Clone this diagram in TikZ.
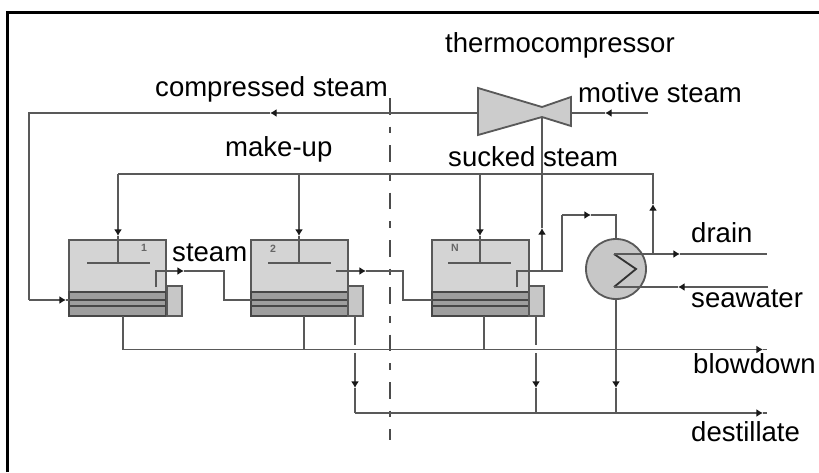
\documentclass[tikz,border=0pt]{standalone}
\usepackage{fontspec}
\setmainfont{Liberation Sans}
\usetikzlibrary{arrows.meta}

\begin{document}
\begin{tikzpicture}[x=0.03cm,y=-0.03cm,
    pipe/.style={draw=black!65, line width=0.055cm},
    tipped/.style={pipe,-{Latex[length=0.2cm,width=0.24cm,color=black!90]}},
    shell/.style={draw=black!65, line width=0.055cm, fill=black!17, anchor=north west, inner sep=0, outer sep=0, minimum width=2.91cm, minimum height=2.28cm},
    band/.style={draw=black!72, line width=0.055cm, fill=black!38, anchor=north west, inner sep=0, outer sep=0, minimum width=2.91cm},
    sidebox/.style={draw=black!65, line width=0.055cm, fill=black!22, anchor=south west, inner sep=0, outer sep=0, minimum width=0.46cm, minimum height=0.9cm},
    tag/.style={anchor=base west, inner sep=0, font=\fontsize{23.5}{28}\selectfont},
    num/.style={text=black!60, inner sep=0, font=\bfseries\fontsize{9}{10}\selectfont}]
    \useasboundingbox (0,0) rectangle (819,472);

    % frame
    \coordinate (f1) at (7,472);
    \coordinate (f2) at (7,12);
    \coordinate (f3) at (819,12);
    \draw[line width=0.09cm, line join=miter] (f1) -- (f2) -- (f3);

    % evaporators
    \node[shell] (ev1) at (69,240) {};
    \node[band, minimum height=0.24cm] (a1) at (69,292) {};
    \node[band, minimum height=0.18cm] (b1) at (69,300) {};
    \node[band, minimum height=0.30cm] (c1) at (69,306) {};
    \node[sidebox] (s1) at (167,316) {};
    \node[num] (l1) at (144,248) {1};

    \node[shell] (ev2) at (251,240) {};
    \node[band, minimum height=0.24cm] (a2) at (251,292) {};
    \node[band, minimum height=0.18cm] (b2) at (251,300) {};
    \node[band, minimum height=0.30cm] (c2) at (251,306) {};
    \node[sidebox] (s2) at (348,316) {};
    \node[num] (l2) at (273,249) {2};

    \node[shell] (evN) at (432,240) {};
    \node[band, minimum height=0.24cm] (aN) at (432,292) {};
    \node[band, minimum height=0.18cm] (bN) at (432,300) {};
    \node[band, minimum height=0.30cm] (cN) at (432,306) {};
    \node[sidebox] (sN) at (529,316) {};
    \node[num] (lN) at (455,248) {N};

    % condenser and ejector
    \node[circle, draw=black!65, line width=0.055cm, fill=black!22, minimum size=1.8cm, inner sep=0, outer sep=0] (cond) at (616,269) {};
    \coordinate (z1) at (614,254);
    \coordinate (z2) at (636,269);
    \coordinate (z3) at (614,287);

    \coordinate (t1) at (478,88);
    \coordinate (t2) at (542,107);
    \coordinate (t3) at (571,97);
    \coordinate (t4) at (571,126);
    \coordinate (t5) at (542,117);
    \coordinate (t6) at (478,135);
    \draw[pipe, fill=black!20] (t1) -- (t2) -- (t3) -- (t4) -- (t5) -- (t6) -- cycle;

    % dashed axis
    \coordinate (d1) at (390,98);
    \coordinate (d2) at (390,440);
    \draw[draw=black!70, line width=0.045cm, dash pattern=on 0.5cm off 0.36cm on 0.2cm off 0.36cm] (d1) -- (d2);

    % compressed steam
    \coordinate (m0) at (648,113);
    \coordinate (m1) at (605,113);
    \coordinate (m2) at (571,113);
    \coordinate (p0) at (478,113);
    \coordinate (p1) at (270,113);
    \coordinate (p2) at (29,113);
    \coordinate (p3) at (29,300);
    \coordinate (p4) at (66,300);
    \draw[tipped] (m0) -- (m1);
    \draw[pipe] (m1) -- (m2);
    \draw[tipped] (p0) -- (p1);
    \draw[pipe] (p1) -- (p2) -- (p3);
    \draw[tipped] (p3) -- (p4);
    \draw[pipe] (p4) -- (a1.south west);

    % make-up
    \coordinate (h1) at (118,174);
    \coordinate (h2) at (299,174);
    \coordinate (h3) at (480,174);
    \coordinate (h4) at (653,174);
    \coordinate (h5) at (653,204);
    \coordinate (h6) at (653,254);
    \coordinate (i1) at (118,236);
    \coordinate (i2) at (299,236);
    \coordinate (i3) at (480,236);
    \coordinate (j1) at (118,263);
    \coordinate (j2) at (299,263);
    \coordinate (j3) at (480,263);
    \coordinate (k1) at (87,263);
    \coordinate (k2) at (150,263);
    \coordinate (k3) at (268,263);
    \coordinate (k4) at (331,263);
    \coordinate (k5) at (448,263);
    \coordinate (k6) at (511,263);
    \draw[pipe] (h1) -- (h4) -- (h5);
    \draw[tipped] (h6) -- (h5);
    \draw[tipped] (h1) -- (i1);
    \draw[tipped] (h2) -- (i2);
    \draw[tipped] (h3) -- (i3);
    \draw[pipe] (i1) -- (j1);
    \draw[pipe] (i2) -- (j2);
    \draw[pipe] (i3) -- (j3);
    \draw[pipe] (k1) -- (k2);
    \draw[pipe] (k3) -- (k4);
    \draw[pipe] (k5) -- (k6);

    % steam between effects
    \coordinate (v1) at (156,287);
    \coordinate (v2) at (156,271);
    \coordinate (v3) at (184,271);
    \coordinate (v4) at (224,271);
    \coordinate (v5) at (224,300);
    \draw[tipped] (v1) -- (v2) -- (v3);
    \draw[pipe] (v3) -- (v4) -- (v5) -- (a2.south west);
    \coordinate (w1) at (336,271);
    \coordinate (w2) at (366,271);
    \coordinate (w3) at (403,271);
    \coordinate (w4) at (403,300);
    \draw[tipped] (w1) -- (w2);
    \draw[pipe] (w2) -- (w3) -- (w4) -- (aN.south west);

    % last effect, condenser, sucked steam
    \coordinate (y1) at (517,287);
    \coordinate (y2) at (517,271);
    \coordinate (y3) at (562,271);
    \coordinate (y4) at (562,215);
    \coordinate (y5) at (591,215);
    \coordinate (y6) at (616,215);
    \coordinate (q1) at (542,271);
    \coordinate (q2) at (542,228);
    \coordinate (q3) at (542,117);
    \draw[pipe] (y1) -- (y2) -- (y3) -- (y4);
    \draw[tipped] (y4) -- (y5);
    \draw[pipe] (y5) -- (y6) -- (cond.north);
    \draw[tipped] (q1) -- (q2);
    \draw[pipe] (q2) -- (q3);

    % condenser ends
    \coordinate (r1) at (680,254);
    \coordinate (r2) at (767,254);
    \coordinate (r3) at (768,287);
    \coordinate (r4) at (678,287);
    \draw[pipe, draw=black!80] (z3) -- (z2) -- (z1);
    \draw[tipped] (z1) -- (r1);
    \draw[pipe] (r1) -- (r2);
    \draw[tipped] (r3) -- (r4);
    \draw[pipe] (r4) -- (z3);

    % blowdown
    \coordinate (b0) at (123,349.5);
    \coordinate (bt) at (763,349.5);
    \coordinate (be) at (767,349.5);
    \coordinate (bq) at (304,349.5);
    \coordinate (br) at (484,349.5);
    \draw[tipped] (b0) -- (bt);
    \draw[pipe] (bt) -- (be);
    \draw[pipe] (c1.south west -| b0) -- (b0);
    \draw[pipe] (c2.south west -| bq) -- (bq);
    \draw[pipe] (cN.south west -| br) -- (br);

    % destillate
    \coordinate (e1) at (355,316);
    \coordinate (e2) at (355,345);
    \coordinate (e3) at (355,353);
    \coordinate (e4) at (355,388);
    \coordinate (e5) at (355,413);
    \coordinate (e6) at (536,316);
    \coordinate (e7) at (536,345);
    \coordinate (e8) at (536,353);
    \coordinate (e9) at (536,388);
    \coordinate (e10) at (536,413);
    \coordinate (e12) at (616,388);
    \coordinate (e13) at (616,413);
    \coordinate (e14) at (763,413);
    \coordinate (e15) at (767,413);
    \draw[pipe] (e1) -- (e2);
    \draw[tipped] (e3) -- (e4);
    \draw[pipe] (e4) -- (e5);
    \draw[pipe] (e6) -- (e7);
    \draw[tipped] (e8) -- (e9);
    \draw[pipe] (e9) -- (e10);
    \draw[tipped] (cond.south) -- (e12);
    \draw[pipe] (e12) -- (e13);
    \draw[tipped] (e5) -- (e14);
    \draw[pipe] (e14) -- (e15);

    % labels
    \node[tag] (n1) at (445,52) {thermocompressor};
    \node[tag] (n2) at (155,96) {compressed steam};
    \node[tag] (n3) at (578,102) {motive steam};
    \node[tag] (n4) at (225,156) {make-up};
    \node[tag] (n5) at (448,166) {sucked steam};
    \node[tag] (n6) at (172,261) {steam};
    \node[tag] (n7) at (691,242) {drain};
    \node[tag] (n8) at (691,307) {seawater};
    \node[tag] (n9) at (693,373) {blowdown};
    \node[tag] (n10) at (691,441) {destillate};
\end{tikzpicture}
\end{document}
